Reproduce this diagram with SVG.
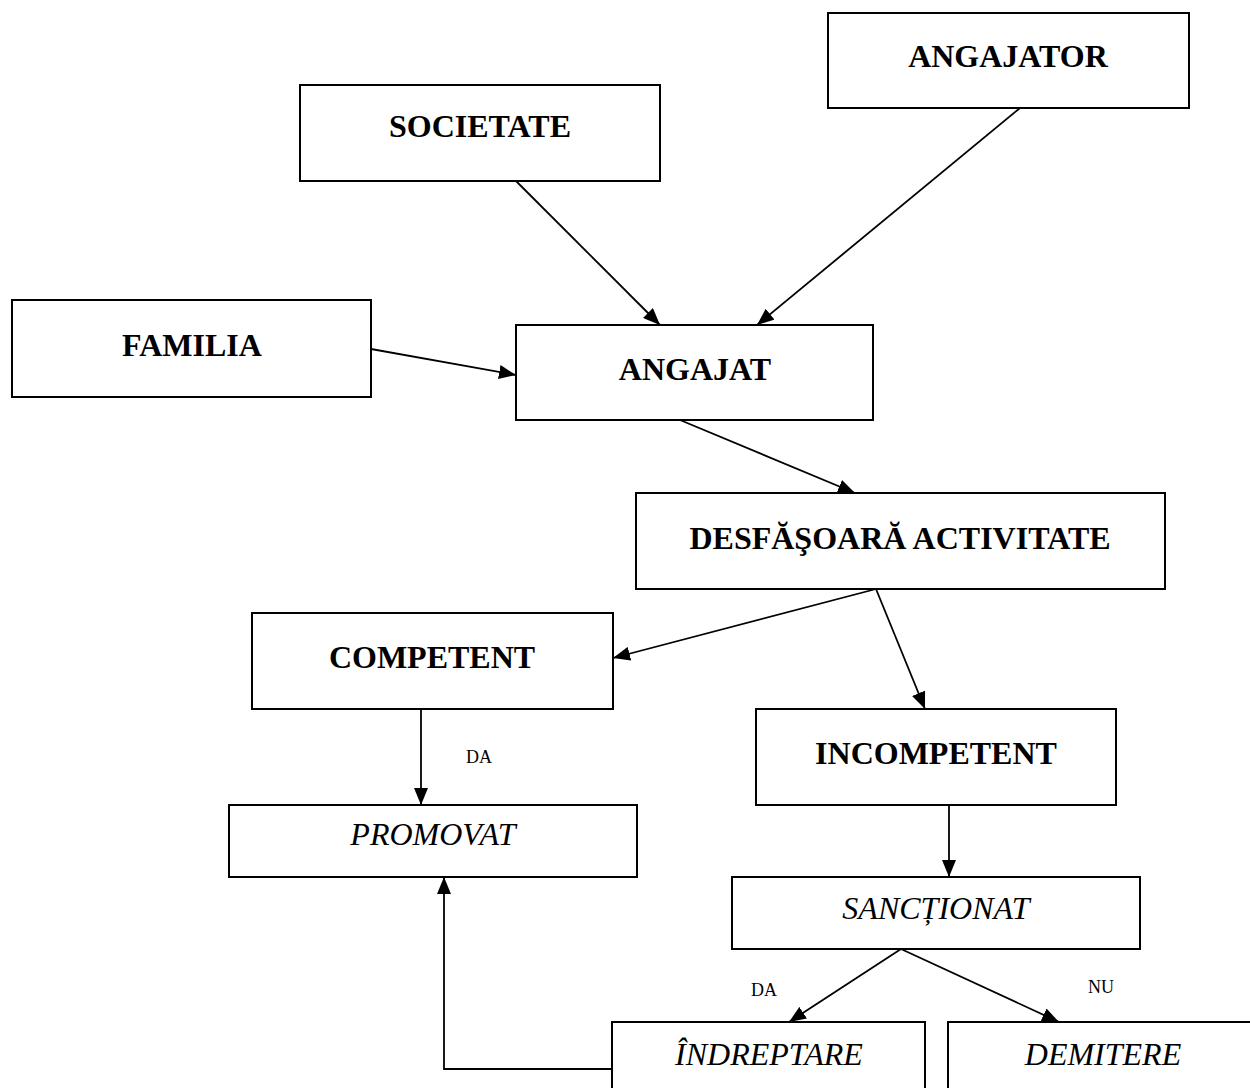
<svg xmlns="http://www.w3.org/2000/svg" width="1250" height="1088" viewBox="0 0 1250 1088">
  <style>
    .box { fill: #fff; stroke: #000; stroke-width: 2; }
    .t { font-family: "Liberation Serif", "Times New Roman", serif; font-size: 32px; fill: #000; text-anchor: middle; }
    .b { font-weight: bold; }
    .i { font-style: italic; }
    .lbl { font-family: "Liberation Serif", "Times New Roman", serif; font-size: 18px; fill: #000; text-anchor: middle; }
    .edge { fill: none; stroke: #000; stroke-width: 1.8; marker-end: url(#arrow); }
  </style>
  <defs>
    <marker id="arrow" markerUnits="userSpaceOnUse" markerWidth="18" markerHeight="14" refX="17" refY="7" orient="auto">
      <path d="M0,0 L17,7 L0,14 z" fill="#000"/>
    </marker>
  </defs>
  <rect width="1250" height="1088" fill="#fff"/>

  <g id="angajator">
    <rect class="box" x="828" y="13" width="361" height="95"/>
    <text class="t b" x="1008" y="67">ANGAJATOR</text>
  </g>
  <g id="societate">
    <rect class="box" x="300" y="85" width="360" height="96"/>
    <text class="t b" x="480" y="137">SOCIETATE</text>
  </g>
  <g id="familia">
    <rect class="box" x="12" y="300" width="359" height="97"/>
    <text class="t b" x="192" y="356">FAMILIA</text>
  </g>
  <g id="angajat">
    <rect class="box" x="516" y="325" width="357" height="95"/>
    <text class="t b" x="695" y="380">ANGAJAT</text>
  </g>
  <g id="desfasoara">
    <rect class="box" x="636" y="493" width="529" height="96"/>
    <text class="t b" x="900" y="549">DESFĂŞOARĂ ACTIVITATE</text>
  </g>
  <g id="competent">
    <rect class="box" x="252" y="613" width="361" height="96"/>
    <text class="t b" x="432" y="668">COMPETENT</text>
  </g>
  <g id="incompetent">
    <rect class="box" x="756" y="709" width="360" height="96"/>
    <text class="t b" x="936" y="764">INCOMPETENT</text>
  </g>
  <g id="promovat">
    <rect class="box" x="229" y="805" width="408" height="72"/>
    <text class="t i" x="433" y="845">PROMOVAT</text>
  </g>
  <g id="sanctionat">
    <rect class="box" x="732" y="877" width="408" height="72"/>
    <text class="t i" x="936" y="919">SANCȚIONAT</text>
  </g>
  <g id="indreptare">
    <rect class="box" x="612" y="1022" width="313" height="80"/>
    <text class="t i" x="769" y="1065">ÎNDREPTARE</text>
  </g>
  <g id="demitere">
    <rect class="box" x="948" y="1022" width="312" height="80"/>
    <text class="t i" x="1103" y="1065">DEMITERE</text>
  </g>

  <g id="connectors">
    <line class="edge" x1="516" y1="181" x2="660" y2="325"/>
    <line class="edge" x1="1020" y1="108" x2="757" y2="325"/>
    <line class="edge" x1="371" y1="349" x2="516" y2="375"/>
    <line class="edge" x1="680" y1="420" x2="855" y2="493"/>
    <line class="edge" x1="876" y1="589" x2="613" y2="658"/>
    <line class="edge" x1="876" y1="589" x2="925" y2="709"/>
    <line class="edge" x1="421" y1="709" x2="421" y2="805"/>
    <line class="edge" x1="949" y1="805" x2="949" y2="877"/>
    <line class="edge" x1="901" y1="949" x2="789" y2="1022"/>
    <line class="edge" x1="901" y1="949" x2="1059" y2="1022"/>
    <polyline class="edge" points="612,1069 444,1069 444,877"/>
    <text class="lbl" x="479" y="763">DA</text>
    <text class="lbl" x="764" y="996">DA</text>
    <text class="lbl" x="1101" y="993">NU</text>
  </g>
</svg>
